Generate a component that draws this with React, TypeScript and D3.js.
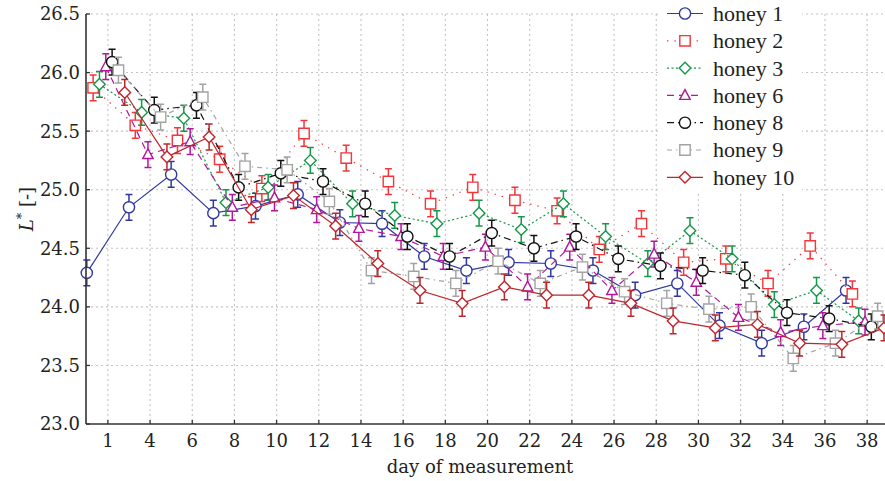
import * as d3 from 'd3';
import { useEffect, useRef } from 'react';

// measurement days (each series is drawn slightly shifted so the points do not overlap)
const days = [1, 3, 5, 7, 9, 11, 13, 15, 17, 19, 21, 23, 25, 27, 29, 31, 33, 35, 37];

const seriesNames = ['honey 1', 'honey 2', 'honey 3', 'honey 6', 'honey 8', 'honey 9', 'honey 10'];

const honey1 = [24.29, 24.85, 25.13, 24.8, 24.86, 24.96, 24.72, 24.71, 24.43, 24.31, 24.38, 24.37, 24.31, 24.1, 24.2, 23.84, 23.69, 23.83, 24.14];
const honey2 = [25.87, 25.55, 25.42, 25.26, 25.01, 25.48, 25.27, 25.07, 24.88, 25.02, 24.91, 24.82, 24.49, 24.71, 24.38, 24.41, 24.2, 24.52, 24.11];
const honey3 = [25.9, 25.66, 25.61, 24.89, 25.02, 25.25, 24.88, 24.78, 24.71, 24.8, 24.66, 24.88, 24.6, 24.37, 24.65, 24.41, 24.02, 24.14, 23.88];
const honey6 = [26.05, 25.3, 25.41, 24.85, 24.93, 24.83, 24.67, 24.6, 24.43, 24.51, 24.17, 24.51, 24.14, 24.45, 24.21, 23.91, 23.78, 23.84, 23.87];
const honey8 = [26.09, 25.68, 25.72, 25.02, 25.14, 25.07, 24.88, 24.6, 24.43, 24.63, 24.5, 24.6, 24.41, 24.35, 24.31, 24.27, 23.95, 23.9, 23.83];
const honey9 = [26.02, 25.62, 25.79, 25.2, 25.17, 24.9, 24.31, 24.26, 24.2, 24.39, 24.2, 24.34, 24.13, 24.03, 23.98, 24.0, 23.56, 23.69, 23.92];
const honey10 = [25.83, 25.28, 25.45, 24.83, 24.95, 24.69, 24.37, 24.14, 24.03, 24.17, 24.1, 24.1, 24.03, 23.88, 23.82, 23.85, 23.69, 23.68, 23.82];

const seriesValues = [honey1, honey2, honey3, honey6, honey8, honey9, honey10];
const seriesErrors = [0.11, 0.11, 0.11, 0.11, 0.11, 0.11, 0.11];

const xTickValues = [2, 4, 6, 8, 10, 12, 14, 16, 18, 20, 22, 24, 26, 28, 30, 32, 34, 36, 38];
const xTickLabels = ['1', '4', '6', '8', '10', '12', '14', '16', '18', '20', '22', '24', '26', '28', '30', '32', '34', '36', '38'];
const yTickValues = [23.0, 23.5, 24.0, 24.5, 25.0, 25.5, 26.0, 26.5];

// look of each series
const styles = [
  { color: '#3038a0', dash: null, marker: 'circle' },
  { color: '#f2363a', dash: '1.4,6', marker: 'square' },
  { color: '#16984a', dash: '2,2.5', marker: 'diamond' },
  { color: '#b0189c', dash: '7,5', marker: 'triangle' },
  { color: '#111111', dash: '7,4,1.5,4', marker: 'circle' },
  { color: '#a3a3a3', dash: '5,4,1.5,4', marker: 'square' },
  { color: '#bf262c', dash: null, marker: 'diamond' },
];

const W = 885, H = 481;
const serif = '"DejaVu Serif", serif';

function markerPath(type: string): string {
  const s = 5.2;
  if (type === 'circle') {
    const r = 5.6;
    return `M${-r},0A${r},${r} 0 1,0 ${r},0A${r},${r} 0 1,0 ${-r},0Z`;
  }
  if (type === 'square') return `M${-s},${-s}H${s}V${s}H${-s}Z`;
  if (type === 'diamond') {
    const d = 5.8;
    return `M0,${-d}L${d},0L0,${d}L${-d},0Z`;
  }
  // triangle
  return `M0,${-5.8}L${5.2},${4}L${-5.2},${4}Z`;
}

export default function App() {
  const ref = useRef<SVGSVGElement>(null);

  useEffect(() => {
    const svg = d3.select(ref.current);
    svg.selectAll('*').remove();

    const left = 86, top = 14, bottom = 424;
    const x = d3.scaleLinear().domain([1, 39]).range([86.8, 86.8 + 38 * 21.09]);
    const y = d3.scaleLinear().domain([23, 26.5]).range([bottom, top]);
    const offset = 0.3;

    // grid
    const grid = svg.append('g');
    grid.selectAll('line.gx')
      .data(xTickValues)
      .join('line')
      .attr('x1', d => x(d)).attr('x2', d => x(d))
      .attr('y1', top).attr('y2', bottom)
      .attr('stroke', '#c4c4c4').attr('stroke-width', 1.1)
      .attr('stroke-dasharray', '2,3');
    grid.selectAll('line.gy')
      .data(yTickValues.slice(1))
      .join('line')
      .attr('x1', left).attr('x2', W)
      .attr('y1', d => y(d)).attr('y2', d => y(d))
      .attr('stroke', '#c4c4c4').attr('stroke-width', 1.1)
      .attr('stroke-dasharray', '2,3');

    // series
    seriesValues.forEach((vals, i) => {
      const st = styles[i];
      const g = svg.append('g');
      const pts = vals.map((v, j) => [x(days[j] + i * offset), y(v)] as [number, number]);
      const line = d3.line();
      g.append('path')
        .attr('d', line(pts))
        .attr('fill', 'none')
        .attr('stroke', st.color)
        .attr('stroke-width', 1.2)
        .attr('stroke-dasharray', st.dash);

      const err = seriesErrors[i];
      const eb = g.selectAll('g.eb')
        .data(vals)
        .join('g')
        .attr('transform', (_, j) => `translate(${pts[j][0]},0)`);
      eb.append('path')
        .attr('d', d => {
          const y0 = y(d - err), y1 = y(d + err);
          return `M0,${y0}V${y1}M-3.5,${y0}H3.5M-3.5,${y1}H3.5`;
        })
        .attr('stroke', st.color)
        .attr('stroke-width', 1.5)
        .attr('fill', 'none');

      g.selectAll('path.mk')
        .data(vals)
        .join('path')
        .attr('class', 'mk')
        .attr('transform', (_, j) => `translate(${pts[j][0]},${pts[j][1]})`)
        .attr('d', markerPath(st.marker))
        .attr('fill', 'white')
        .attr('stroke', st.color)
        .attr('stroke-width', 1.4);
    });

    // axes
    const ax = svg.append('g').attr('fill', '#222').style('font-family', serif).style('font-size', '18px');
    ax.append('line')
      .attr('x1', left).attr('x2', left).attr('y1', top).attr('y2', bottom)
      .attr('stroke', '#333').attr('stroke-width', 1.6);
    ax.append('line')
      .attr('x1', left).attr('x2', W).attr('y1', bottom).attr('y2', bottom)
      .attr('stroke', '#333').attr('stroke-width', 1.6);

    ax.selectAll('line.yt')
      .data(yTickValues)
      .join('line')
      .attr('x1', left).attr('x2', left + 4)
      .attr('y1', d => y(d)).attr('y2', d => y(d))
      .attr('stroke', '#333').attr('stroke-width', 1.3);
    ax.selectAll('text.yl')
      .data(yTickValues)
      .join('text')
      .attr('x', left - 6)
      .attr('y', d => y(d))
      .attr('dy', '0.36em')
      .attr('text-anchor', 'end')
      .text(d => d3.format('.1f')(d));

    ax.selectAll('line.xt')
      .data(xTickValues)
      .join('line')
      .attr('x1', d => x(d)).attr('x2', d => x(d))
      .attr('y1', bottom).attr('y2', bottom - 4)
      .attr('stroke', '#333').attr('stroke-width', 1.3);
    ax.selectAll('text.xl')
      .data(xTickValues)
      .join('text')
      .attr('x', d => x(d))
      .attr('y', bottom + 23)
      .attr('text-anchor', 'middle')
      .text((_, k) => xTickLabels[k]);

    ax.append('text')
      .attr('x', 480)
      .attr('y', 473)
      .attr('text-anchor', 'middle')
      .text('day of measurement');

    const yl = ax.append('text')
      .attr('transform', 'translate(33,209) rotate(-90)')
      .attr('text-anchor', 'middle');
    yl.append('tspan').attr('font-style', 'italic').text('L');
    yl.append('tspan').attr('dy', -7).attr('font-size', '13px').text('*');
    yl.append('tspan').attr('dy', 7).text(' [-]');

    // legend
    const lg = svg.append('g');
    lg.append('rect')
      .attr('x', 660).attr('y', 0).attr('width', 142).attr('height', 191)
      .attr('fill', 'white');
    seriesNames.forEach((name, i) => {
      const st = styles[i];
      const cy = 13.5 + i * 27.3;
      lg.append('line')
        .attr('x1', 667).attr('x2', 703).attr('y1', cy).attr('y2', cy)
        .attr('stroke', st.color).attr('stroke-width', 1.2)
        .attr('stroke-dasharray', st.dash);
      lg.append('path')
        .attr('transform', `translate(685,${cy})`)
        .attr('d', markerPath(st.marker))
        .attr('fill', 'white')
        .attr('stroke', st.color)
        .attr('stroke-width', 1.4);
      lg.append('text')
        .attr('x', 713).attr('y', cy)
        .attr('dy', '0.34em')
        .attr('fill', '#222')
        .style('font-family', '"Liberation Serif", serif')
        .style('font-size', '22px')
        .text(name);
    });
  }, []);

  return (
    <svg ref={ref} width={W} height={H}
      style={{ position: 'absolute', left: 0, top: 0, background: 'white' }} />
  );
}
